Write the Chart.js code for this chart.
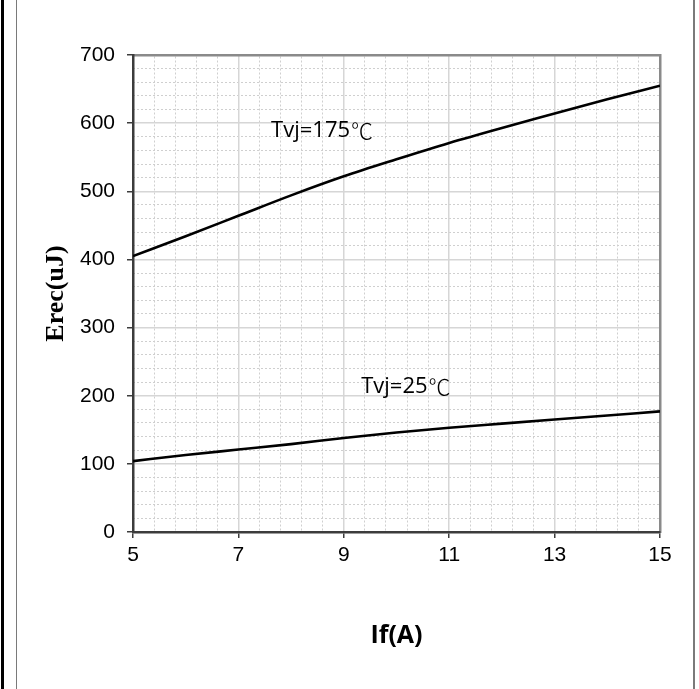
<!DOCTYPE html>
<html>
<head>
<meta charset="utf-8">
<script src="https://cdn.jsdelivr.net/npm/chart.js@4/dist/chart.umd.min.js"></script>
<style>
  html, body { margin: 0; padding: 0; background: #fff; }
  #wrap { position: relative; width: 699px; height: 689px; overflow: hidden; }
  #c { position: absolute; left: 0; top: 0; }
  .rule { position: absolute; top: 0; height: 689px; }
</style>
</head>
<body>
<div id="wrap">
  <canvas id="c" width="699" height="689"></canvas>
  <div class="rule" style="left:1px;width:3px;background:#000;"></div>
  <div class="rule" style="left:16px;width:1px;background:#7a7a7a;"></div>
  <div class="rule" style="left:693px;width:2px;background:#7a7a7a;"></div>
</div>
<script>
// Forward current If (A)
const currents = [5, 6, 7, 8, 9, 10, 11, 12, 13, 14, 15];
// Reverse recovery energy Erec (uJ)
const erecHot  = [405, 434, 464, 494, 522, 547, 571, 593, 614, 635, 655]; // Tvj=175℃
const erecRoom = [104, 113, 121, 129, 138, 146, 153, 159, 165, 171, 177]; // Tvj=25℃
const curveNames = ['Tvj=175℃', 'Tvj=25℃'];
const xTitle = 'If(A)';
const yTitle = 'Erec(uJ)';

const toPoints = ys => currents.map((x, i) => ({ x: x, y: ys[i] }));

const AXIS_DARK = '#3c3c3c';
const FRAME_GRAY = '#8a8a8a';
const MAJOR_GRID = '#d6d6d6';
const MINOR_GRID = '#cfcfcf';

const onMajor = (v, origin, step) => {
  const r = (v - origin) / step;
  return Math.abs(r - Math.round(r)) < 1e-6;
};

// Caption text with the degree sign set in a CJK face
function drawCaption(ctx, text, x, y) {
  const body = text.slice(0, -1);
  const unit = text.slice(-1);
  ctx.font = '22px "Open Sans", sans-serif';
  ctx.fillText(body, x, y);
  const w = ctx.measureText(body).width;
  ctx.font = '300 22px "Noto Sans CJK SC", sans-serif';
  ctx.fillText(unit, x + w + 1, y);
}

// Curve captions and axis titles
const textPlugin = {
  id: 'captions',
  afterDatasetsDraw(chart) {
    const { ctx, chartArea, scales } = chart;
    const xs = scales.x, ys = scales.y;
    ctx.save();
    ctx.fillStyle = '#000';
    ctx.textBaseline = 'middle';
    ctx.textAlign = 'left';
    drawCaption(ctx, curveNames[0], xs.getPixelForValue(7.62), ys.getPixelForValue(589));
    drawCaption(ctx, curveNames[1], xs.getPixelForValue(9.33), ys.getPixelForValue(213));

    // x axis title
    ctx.textAlign = 'center';
    ctx.font = 'bold 25px "Open Sans", sans-serif';
    ctx.fillText(xTitle, (chartArea.left + chartArea.right) / 2, 636);

    // y axis title, rotated
    ctx.translate(56, (chartArea.top + chartArea.bottom) / 2);
    ctx.rotate(-Math.PI / 2);
    ctx.font = 'bold 26px "Liberation Serif", "Times New Roman", serif';
    ctx.fillText(yTitle, 0, 0);
    ctx.restore();
  }
};

new Chart(document.getElementById('c'), {
  type: 'line',
  data: {
    datasets: [
      { label: curveNames[0], data: toPoints(erecHot) },
      { label: curveNames[1], data: toPoints(erecRoom) }
    ]
  },
  options: {
    responsive: false,
    animation: false,
    events: [],
    layout: { padding: { left: 0, top: 55, right: 39, bottom: 0 } },
    elements: {
      line: { borderColor: '#000', borderWidth: 2.6, cubicInterpolationMode: 'monotone', fill: false },
      point: { radius: 0 }
    },
    plugins: { legend: { display: false }, tooltip: { enabled: false } },
    scales: {
      x2: {
        type: 'linear', position: 'top', min: 5, max: 15,
        ticks: { display: false, stepSize: 0.4, autoSkip: false },
        grid: {
          drawTicks: false, lineWidth: 1,
          color: c => onMajor(c.tick.value, 5, 2) ? 'rgba(0,0,0,0)' : MINOR_GRID
        },
        border: { display: true, color: FRAME_GRAY, width: 2.5, dash: [2, 2] },
        afterFit: s => { s.height = 0; }
      },
      y2: {
        type: 'linear', position: 'right', min: 0, max: 700,
        ticks: { display: false, stepSize: 20, autoSkip: false },
        grid: {
          drawTicks: false, lineWidth: 1,
          color: c => onMajor(c.tick.value, 0, 100) ? 'rgba(0,0,0,0)' : MINOR_GRID
        },
        border: { display: true, color: FRAME_GRAY, width: 2.5, dash: [2, 2] },
        afterFit: s => { s.width = 0; }
      },
      x: {
        type: 'linear', position: 'bottom', min: 5, max: 15,
        ticks: {
          stepSize: 2, autoSkip: false, maxRotation: 0, padding: 5, color: '#000',
          font: { family: '"Liberation Sans", Arial, sans-serif', size: 21 }
        },
        grid: { color: MAJOR_GRID, lineWidth: 1.5, tickLength: 6, tickColor: AXIS_DARK, tickWidth: 1.5 },
        border: { color: AXIS_DARK, width: 2.5 },
        afterFit: s => { s.height = 157; }
      },
      y: {
        type: 'linear', position: 'left', min: 0, max: 700,
        ticks: {
          stepSize: 100, autoSkip: false, padding: 12, color: '#000',
          font: { family: '"Liberation Sans", Arial, sans-serif', size: 21 }
        },
        grid: { color: MAJOR_GRID, lineWidth: 1.5, tickLength: 6, tickColor: AXIS_DARK, tickWidth: 1.5 },
        border: { color: AXIS_DARK, width: 2.5 },
        afterFit: s => { s.width = 133; }
      }
    }
  },
  plugins: [textPlugin]
});
</script>
</body>
</html>
